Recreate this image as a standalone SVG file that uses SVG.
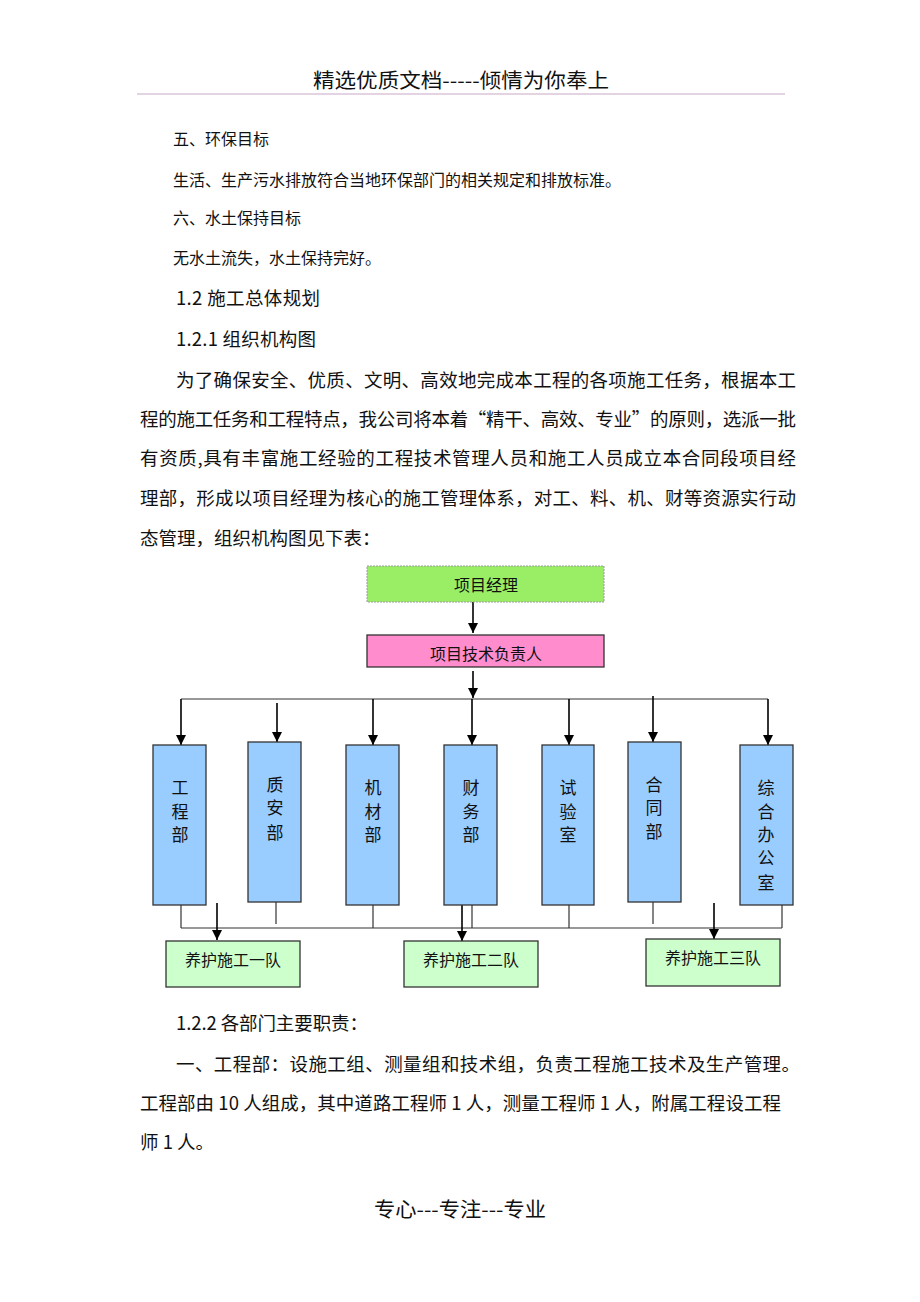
<svg xmlns="http://www.w3.org/2000/svg" width="920" height="1302" viewBox="0 0 920 1302">
<style>
.t{font-family:"Noto Sans CJK SC","Liberation Sans",sans-serif;fill:#111}
.s16{font-size:16px}
.s18{font-size:18.5px}
.n{font-size:16px;text-anchor:middle}
.v{font-size:17px;text-anchor:middle}
.blue{fill:#99ccff;stroke:#333;stroke-width:1.3}
.team{fill:#ccffcc;stroke:#333;stroke-width:1.3}
.arr{stroke:#000;stroke-width:1.6;fill:none;marker-end:url(#ah)}
.ln{stroke:#333;stroke-width:1.2;fill:none}
</style>
<defs>
<marker id="ah" markerUnits="userSpaceOnUse" markerWidth="10" markerHeight="11" refX="10" refY="5" orient="auto">
<path d="M0,0 L10,5 L0,10 z" fill="#000"/>
</marker>
</defs>
<rect width="920" height="1302" fill="#fff"/>

<text class="t" x="313" y="88" font-size="20" textLength="296" lengthAdjust="spacingAndGlyphs">精选优质文档-----倾情为你奉上</text>
<line x1="137" y1="94" x2="785" y2="94" stroke="#c8a8c8" stroke-width="1.2"/>

<text class="t s16" x="173" y="145">五、环保目标</text>
<text class="t s16" x="173" y="186" textLength="448">生活、生产污水排放符合当地环保部门的相关规定和排放标准。</text>
<text class="t s16" x="173" y="224">六、水土保持目标</text>
<text class="t s16" x="173" y="264">无水土流失，水土保持完好。</text>
<text class="t s18" x="176" y="305" textLength="144">1.2  施工总体规划</text>
<text class="t s18" x="176" y="346" textLength="140">1.2.1  组织机构图</text>
<text class="t s18" x="176" y="387" textLength="620">为了确保安全、优质、文明、高效地完成本工程的各项施工任务，根据本工</text>
<text class="t s18" x="140" y="426" textLength="656">程的施工任务和工程特点，我公司将本着“精干、高效、专业”的原则，选派一批</text>
<text class="t s18" x="140" y="465" textLength="656">有资质,具有丰富施工经验的工程技术管理人员和施工人员成立本合同段项目经</text>
<text class="t s18" x="140" y="505" textLength="656">理部，形成以项目经理为核心的施工管理体系，对工、料、机、财等资源实行动</text>
<text class="t s18" x="140" y="545">态管理，组织机构图见下表：</text>

<g id="connectors">
<line class="arr" x1="473" y1="585" x2="473" y2="633"/>
<line class="arr" x1="473" y1="671" x2="473" y2="698"/>
<line class="ln" x1="181" y1="699" x2="768" y2="699" stroke="#000"/>
<line class="arr" x1="181" y1="699" x2="181" y2="745"/>
<line class="arr" x1="277" y1="703" x2="277" y2="742"/>
<line class="arr" x1="373" y1="699" x2="373" y2="745"/>
<line class="arr" x1="472" y1="699" x2="472" y2="745"/>
<line class="arr" x1="569" y1="699" x2="569" y2="745"/>
<line class="arr" x1="653" y1="696" x2="653" y2="742"/>
<line class="arr" x1="768" y1="699" x2="768" y2="745"/>
<line class="ln" x1="181" y1="905" x2="181" y2="928"/>
<line class="ln" x1="276" y1="902" x2="276" y2="924"/>
<line class="ln" x1="373" y1="905" x2="373" y2="928"/>
<line class="ln" x1="472" y1="905" x2="472" y2="928"/>
<line class="ln" x1="569" y1="905" x2="569" y2="928"/>
<line class="ln" x1="653" y1="902" x2="653" y2="924"/>
<line class="ln" x1="782" y1="905" x2="782" y2="928"/>
<line class="ln" x1="181" y1="928" x2="782" y2="928"/>
<line class="arr" x1="217" y1="903" x2="217" y2="940"/>
<line class="arr" x1="462" y1="905" x2="462" y2="941"/>
<line class="arr" x1="714" y1="903" x2="714" y2="939"/>
</g>

<g id="pm">
<rect x="367" y="566" width="237" height="36" fill="#99ee66" stroke="#9a9a9a" stroke-width="1" stroke-dasharray="2 1"/>
<text class="t n" x="486" y="591">项目经理</text>
</g>
<g id="tech">
<rect x="367" y="635" width="237" height="32" fill="#ff8ccc" stroke="#333" stroke-width="1.3"/>
<text class="t n" x="486" y="660">项目技术负责人</text>
</g>

<g id="dept1">
<rect class="blue" x="153" y="745" width="53" height="160"/>
<text class="t v" x="180" y="794">工</text><text class="t v" x="180" y="818">程</text><text class="t v" x="180" y="841">部</text>
</g>
<g id="dept2">
<rect class="blue" x="248" y="742" width="53" height="160"/>
<text class="t v" x="275" y="791">质</text><text class="t v" x="275" y="814">安</text><text class="t v" x="275" y="839">部</text>
</g>
<g id="dept3">
<rect class="blue" x="346" y="745" width="53" height="160"/>
<text class="t v" x="373" y="794">机</text><text class="t v" x="373" y="818">材</text><text class="t v" x="373" y="841">部</text>
</g>
<g id="dept4">
<rect class="blue" x="444" y="745" width="53" height="160"/>
<text class="t v" x="471" y="794">财</text><text class="t v" x="471" y="818">务</text><text class="t v" x="471" y="841">部</text>
</g>
<g id="dept5">
<rect class="blue" x="542" y="745" width="52" height="160"/>
<text class="t v" x="568" y="794">试</text><text class="t v" x="568" y="818">验</text><text class="t v" x="568" y="841">室</text>
</g>
<g id="dept6">
<rect class="blue" x="628" y="742" width="53" height="160"/>
<text class="t v" x="654" y="791">合</text><text class="t v" x="654" y="814">同</text><text class="t v" x="654" y="838">部</text>
</g>
<g id="dept7">
<rect class="blue" x="740" y="745" width="53" height="160"/>
<text class="t v" x="766" y="794">综</text><text class="t v" x="766" y="818">合</text><text class="t v" x="766" y="841">办</text><text class="t v" x="766" y="864">公</text><text class="t v" x="766" y="889">室</text>
</g>

<g id="team1">
<rect class="team" x="166" y="941" width="134" height="46"/>
<text class="t n" x="233" y="966">养护施工一队</text>
</g>
<g id="team2">
<rect class="team" x="404" y="941" width="134" height="46"/>
<text class="t n" x="471" y="966">养护施工二队</text>
</g>
<g id="team3">
<rect class="team" x="646" y="939" width="134" height="47"/>
<text class="t n" x="713" y="964">养护施工三队</text>
</g>

<text class="t s18" x="176" y="1030" textLength="192">1.2.2  各部门主要职责：</text>
<text class="t s18" x="176" y="1071" textLength="624">一、工程部：设施工组、测量组和技术组，负责工程施工技术及生产管理。</text>
<text class="t s18" x="140" y="1110" textLength="641">工程部由 10 人组成，其中道路工程师 1 人，测量工程师 1 人，附属工程设工程</text>
<text class="t s18" x="140" y="1149">师 1 人。</text>

<text class="t" x="374" y="1217" font-size="20" textLength="172" lengthAdjust="spacingAndGlyphs">专心---专注---专业</text>
</svg>
